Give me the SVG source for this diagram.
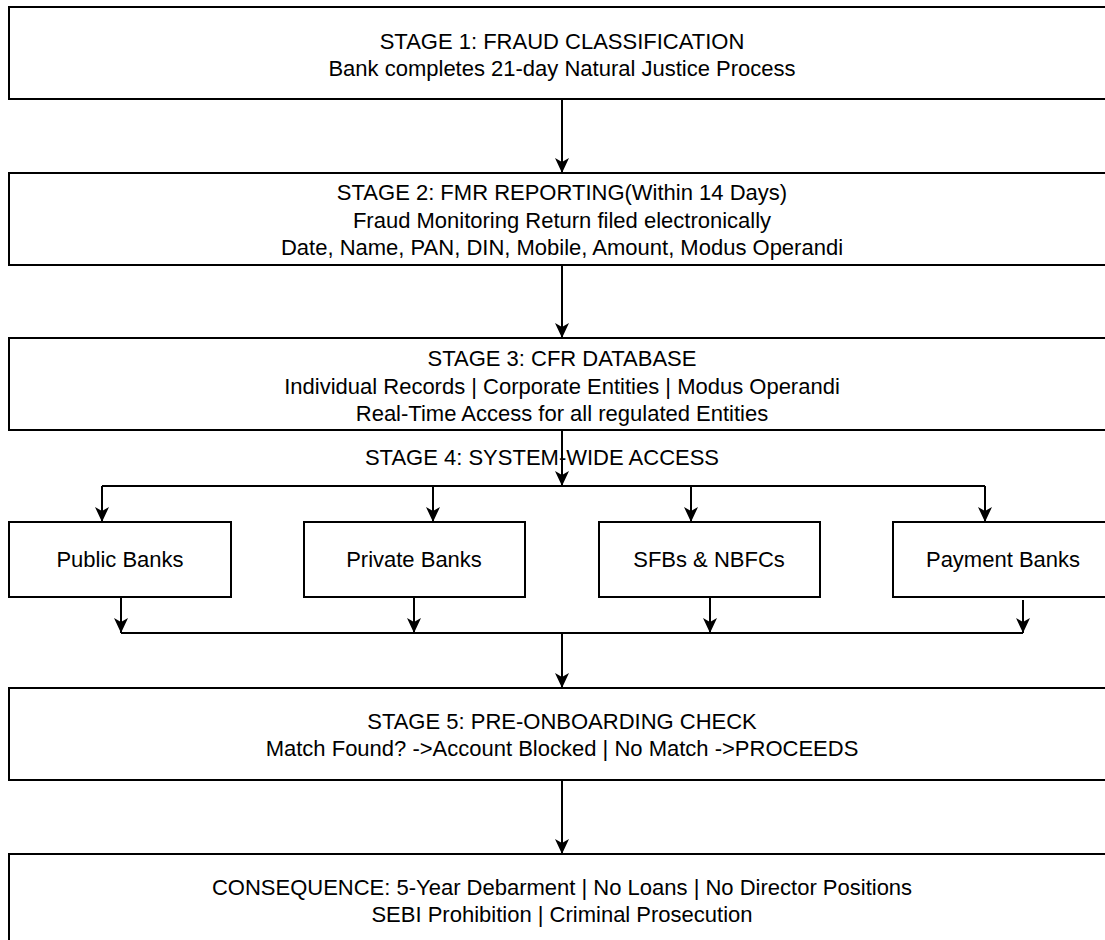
<svg xmlns="http://www.w3.org/2000/svg" width="1105" height="940" viewBox="0 0 1105 940">
  <style>
    .box { fill: #ffffff; stroke: #000000; stroke-width: 2; }
    .t { font-family: "Liberation Sans", Arial, Helvetica, sans-serif; font-size: 22px; fill: #000000; text-anchor: middle; }
    .c { fill: none; stroke: #000000; stroke-width: 2; }
    .ca { fill: none; stroke: #000000; stroke-width: 2; marker-end: url(#arr); }
  </style>
  <defs>
    <marker id="arr" viewBox="0 0 15 14" refX="15" refY="7" markerWidth="15" markerHeight="14" markerUnits="userSpaceOnUse" orient="auto">
      <path d="M0,0 L15,7 L0,14 L4,7 Z" fill="#000000"/>
    </marker>
  </defs>
  <rect width="1105" height="940" fill="#ffffff"/>

  <g id="connectors">
    <line class="ca" x1="562" y1="99" x2="562" y2="173"/>
    <line class="ca" x1="562" y1="265" x2="562" y2="338"/>
    <line class="ca" x1="562" y1="430" x2="562" y2="486"/>
    <polyline class="c" points="102,486 985,486"/>
    <line class="ca" x1="102" y1="486" x2="102" y2="522"/>
    <line class="ca" x1="433" y1="486" x2="433" y2="522"/>
    <line class="ca" x1="691" y1="486" x2="691" y2="522"/>
    <line class="ca" x1="985" y1="486" x2="985" y2="522"/>
    <line class="ca" x1="121" y1="597" x2="121" y2="633"/>
    <line class="ca" x1="414" y1="597" x2="414" y2="633"/>
    <line class="ca" x1="710" y1="597" x2="710" y2="633"/>
    <line class="ca" x1="1023" y1="600" x2="1023" y2="633"/>
    <polyline class="c" points="121,633 1023,633"/>
    <line class="ca" x1="562" y1="633" x2="562" y2="688"/>
    <line class="ca" x1="562" y1="780" x2="562" y2="854"/>
  </g>

  <g id="stage1">
    <rect class="box" x="9" y="7" width="1106" height="92"/>
    <text class="t" x="562" y="49">STAGE 1: FRAUD CLASSIFICATION</text>
    <text class="t" x="562" y="76">Bank completes 21-day Natural Justice Process</text>
  </g>

  <g id="stage2">
    <rect class="box" x="9" y="173" width="1106" height="92"/>
    <text class="t" x="562" y="200">STAGE 2: FMR REPORTING(Within 14 Days)</text>
    <text class="t" x="562" y="228">Fraud Monitoring Return filed electronically</text>
    <text class="t" x="562" y="255">Date, Name, PAN, DIN, Mobile, Amount, Modus Operandi</text>
  </g>

  <g id="stage3">
    <rect class="box" x="9" y="338" width="1106" height="92"/>
    <text class="t" x="562" y="366">STAGE 3: CFR DATABASE</text>
    <text class="t" x="562" y="394">Individual Records | Corporate Entities | Modus Operandi</text>
    <text class="t" x="562" y="421">Real-Time Access for all regulated Entities</text>
  </g>

  <g id="stage4">
    <text class="t" x="542" y="465">STAGE 4: SYSTEM-WIDE ACCESS</text>
  </g>

  <g id="public-banks">
    <rect class="box" x="9" y="522" width="222" height="75"/>
    <text class="t" x="120" y="567">Public Banks</text>
  </g>
  <g id="private-banks">
    <rect class="box" x="304" y="522" width="221" height="75"/>
    <text class="t" x="414" y="567">Private Banks</text>
  </g>
  <g id="sfbs-nbfcs">
    <rect class="box" x="599" y="522" width="221" height="75"/>
    <text class="t" x="709" y="567">SFBs &amp; NBFCs</text>
  </g>
  <g id="payment-banks">
    <rect class="box" x="893" y="522" width="222" height="75"/>
    <text class="t" x="1003" y="567">Payment Banks</text>
  </g>

  <g id="stage5">
    <rect class="box" x="9" y="688" width="1106" height="92"/>
    <text class="t" x="562" y="729">STAGE 5: PRE-ONBOARDING CHECK</text>
    <text class="t" x="562" y="756">Match Found? -&gt;Account Blocked | No Match -&gt;PROCEEDS</text>
  </g>

  <g id="consequence">
    <rect class="box" x="9" y="854" width="1106" height="92"/>
    <text class="t" x="562" y="895">CONSEQUENCE: 5-Year Debarment | No Loans | No Director Positions</text>
    <text class="t" x="562" y="922">SEBI Prohibition | Criminal Prosecution</text>
  </g>
</svg>
